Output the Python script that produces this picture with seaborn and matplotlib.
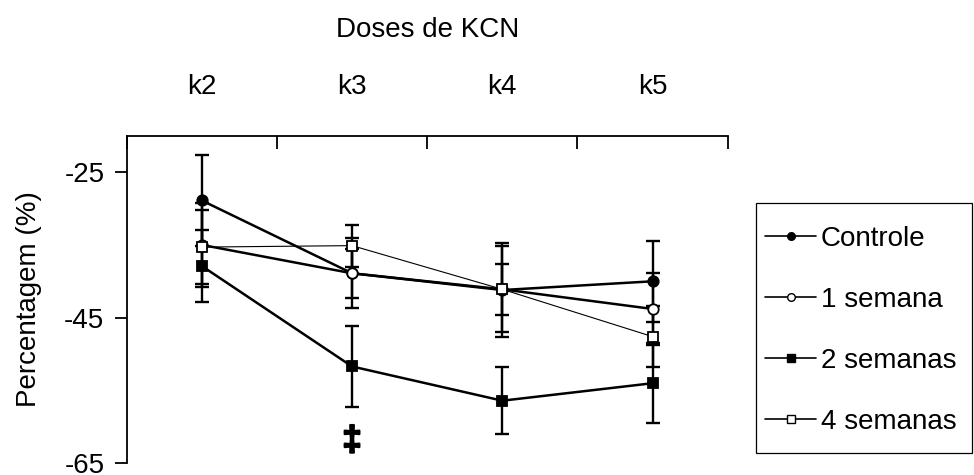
import numpy as np
import pandas as pd
import matplotlib
matplotlib.use("Agg")
import matplotlib.pyplot as plt
import matplotlib.patheffects as pe
from matplotlib.patches import Rectangle
import seaborn as sns
from matplotlib.ticker import FixedLocator, NullFormatter, FixedFormatter

categories = ["k2", "k3", "k4", "k5"]
controle = [-28.9, -38.9, -41.2, -40.0]
controle_err = [6.3, 4.8, 6.4, 5.6]
semana1 = [-35.0, -38.9, -41.1, -43.8]
semana1_err = [5.8, 3.4, 3.5, 5.0]
semana2 = [-37.9, -51.7, -56.4, -54.0]
semana2_err = [5.0, 5.6, 4.6, 5.5]
semana4 = [-35.3, -35.1, -41.1, -47.6]
semana4_err = [5.1, 2.9, 5.9, 4.2]
series_names = ["Controle", "1 semana", "2 semanas", "4 semanas"]
yticks = [-65, -45, -25]
marker_note = "‡"
note_pos = (1, -61.9)

sns.set_theme(style="white")
plt.rcParams["font.family"] = ["Liberation Sans", "DejaVu Sans"]
plt.rcParams["axes.unicode_minus"] = False
for k in ["text.color", "axes.labelcolor", "xtick.color", "ytick.color", "axes.edgecolor"]:
    plt.rcParams[k] = "black"

W, H = 974, 475
fig = plt.figure(figsize=(W / 100, H / 100), dpi=100)
ax = fig.add_axes([126.7 / W, 1 - 463.3 / H, 601 / W, (463.3 - 135.7) / H])

x = np.arange(len(categories))
rows = []
for name, vals, errs in zip(series_names, [controle, semana1, semana2, semana4],
                            [controle_err, semana1_err, semana2_err, semana4_err]):
    for c, xi, v, e in zip(categories, x, vals, errs):
        rows.append({"serie": name, "dose": c, "x": xi, "valor": v, "erro": e})
df = pd.DataFrame(rows)

styles = {
    "Controle": dict(marker="o", mfc="black", lw=1.8),
    "1 semana": dict(marker="o", mfc="white", lw=1.8),
    "2 semanas": dict(marker="s", mfc="black", lw=1.8),
    "4 semanas": dict(marker="s", mfc="white", lw=0.8),
}

handles = []
for name in series_names:
    d = df[df["serie"] == name]
    st = styles[name]
    ax.errorbar(d["x"], d["valor"], yerr=d["erro"], fmt="none", ecolor="black",
                elinewidth=1.7, capsize=4.8, capthick=1.7, zorder=2)
    sns.lineplot(data=d, x="x", y="valor", ax=ax, color="black", lw=st["lw"],
                 marker=st["marker"], markersize=7.5, markerfacecolor=st["mfc"],
                 markeredgecolor="black", markeredgewidth=1.3, zorder=3,
                 estimator=None, sort=False, legend=False)
    handles.append(plt.Line2D([], [], color="black", lw=1.2, marker=st["marker"],
                              markersize=5.5, markerfacecolor=st["mfc"],
                              markeredgecolor="black", markeredgewidth=1.0))

t = ax.text(note_pos[0], note_pos[1], marker_note, ha="center", va="center",
            fontsize=25, fontweight="bold", color="black")
t.set_path_effects([pe.Stroke(linewidth=1.6, foreground="black"), pe.Normal()])

ax.set_xlim(-0.5, len(categories) - 0.5)
ax.set_ylim(-65, -20)

ax.xaxis.tick_top()
ax.xaxis.set_label_position("top")
ax.xaxis.set_major_locator(FixedLocator(np.arange(-0.5, len(categories), 1.0)))
ax.xaxis.set_major_formatter(NullFormatter())
ax.xaxis.set_minor_locator(FixedLocator(x))
ax.xaxis.set_minor_formatter(FixedFormatter(categories))
ax.tick_params(axis="x", which="major", direction="in", length=9, width=1.3,
               top=True, bottom=False, color="black")
ax.tick_params(axis="x", which="minor", length=0, pad=26, labelsize=20,
               top=True, bottom=False, labeltop=True, labelbottom=False)
ax.set_yticks(yticks)
ax.tick_params(axis="y", direction="out", length=9, width=1.3, pad=7,
               labelsize=20, left=True, color="black")
ax.set_xlabel("Doses de KCN", fontsize=20, labelpad=26)
ax.set_ylabel("Percentagem (%)", fontsize=20, labelpad=16)

for s in ["right", "bottom"]:
    ax.spines[s].set_visible(False)
for s in ["top", "left"]:
    ax.spines[s].set_color("black")
    ax.spines[s].set_linewidth(1.3)

leg = fig.legend(handles, series_names, loc="center left",
                 bbox_to_anchor=(765 / W, 1 - 330.5 / H),
                 fontsize=20, frameon=False,
                 handlelength=1.85, handletextpad=0.15, labelspacing=1.26,
                 borderpad=0, borderaxespad=0)
fig.patches.append(Rectangle((756 / W, 1 - 452.5 / H), (972 - 756) / W, (452.5 - 203) / H,
                             transform=fig.transFigure, fill=False, edgecolor="black",
                             linewidth=0.9, zorder=0))

fig.savefig("out.png", dpi=100, facecolor="white")
